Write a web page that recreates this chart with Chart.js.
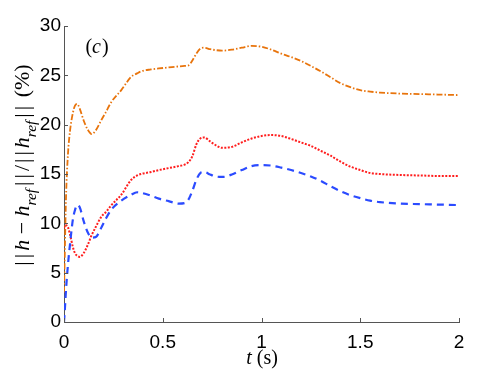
<!DOCTYPE html>
<html>
<head>
<meta charset="UTF-8">
<script src="https://cdn.jsdelivr.net/npm/chart.js"></script>
<style>
  html, body { margin: 0; padding: 0; background: #fff; }
  canvas { display: block; }
</style>
</head>
<body>
<canvas id="graf" width="494" height="372"></canvas>
<script>
// time samples (s)
const tempi = [0, 0.005, 0.01, 0.02, 0.03, 0.045, 0.055, 0.067, 0.08, 0.1,
  0.12, 0.14, 0.16, 0.19, 0.21, 0.24, 0.29, 0.34, 0.37, 0.39,
  0.44, 0.48, 0.53, 0.58, 0.61, 0.63, 0.65, 0.67, 0.69, 0.71,
  0.74, 0.77, 0.8, 0.85, 0.9, 0.95, 1.0, 1.05, 1.1, 1.15,
  1.2, 1.25, 1.3, 1.35, 1.4, 1.45, 1.5, 1.55, 1.6, 1.7,
  1.8, 1.9, 2.0];

// relative error (%) per curve
const erroreArancio = [3.0, 8.0, 12.5, 17.0, 19.3, 21.2, 21.9, 22.1, 21.6, 20.4,
  19.5, 19.05, 19.4, 20.5, 21.2, 22.3, 23.5, 24.85, 25.2, 25.4,
  25.6, 25.7, 25.8, 25.9, 25.95, 26.0, 26.5, 27.2, 27.7, 27.8,
  27.65, 27.55, 27.5, 27.6, 27.8, 27.98, 27.9, 27.6, 27.2, 26.85,
  26.45, 25.95, 25.4, 24.8, 24.2, 23.8, 23.5, 23.35, 23.25, 23.15,
  23.1, 23.05, 23.0];

const erroreRosso = [9.5, 9.8, 9.8, 9.6, 8.9, 7.6, 7.0, 6.7, 6.6, 7.0,
  7.8, 8.8, 9.6, 10.7, 11.1, 11.85, 12.9, 14.4, 14.85, 15.0,
  15.2, 15.4, 15.6, 15.8, 15.95, 16.2, 16.8, 18.0, 18.6, 18.7,
  18.3, 17.9, 17.65, 17.75, 18.2, 18.6, 18.85, 18.95, 18.85, 18.55,
  18.2, 17.85, 17.35, 16.85, 16.25, 15.75, 15.4, 15.1, 15.0, 14.9,
  14.85, 14.8, 14.8];

const erroreBlu = [0, 1.5, 3.2, 5.8, 7.8, 10.4, 11.3, 11.85, 11.6, 10.2,
  9.1, 8.55, 8.6, 9.6, 10.4, 11.4, 12.3, 12.9, 13.15, 13.1,
  12.8, 12.5, 12.25, 12.0, 12.05, 12.4, 13.3, 14.4, 15.1, 15.2,
  14.95, 14.75, 14.7, 14.95, 15.4, 15.8, 15.9, 15.85, 15.65, 15.4,
  15.1, 14.75, 14.3, 13.75, 13.25, 12.85, 12.55, 12.3, 12.15, 12.0,
  11.95, 11.9, 11.85];

const tickX = [0, 0.5, 1, 1.5, 2];
const tickY = [0, 5, 10, 15, 20, 25, 30];

const coloreAssi = '#555';

function punti(valori) {
  return tempi.map((t, i) => ({ x: t, y: valori[i] }));
}

// draws a run of text pieces (italic / subscript) starting at x
function scriviRicco(ctx, pezzi, x, y, size, centrato) {
  const fam = '"Liberation Serif", "DejaVu Serif", serif';
  const misura = p => {
    const s = p.sub ? size * 0.7 : size;
    ctx.font = (p.italic ? 'italic ' : '') + s + 'px ' + fam;
    return ctx.measureText(p.text).width + (p.gap || 0);
  };
  let totale = 0;
  pezzi.forEach(p => { totale += misura(p); });
  let cx = centrato ? x - totale / 2 : x;
  ctx.textBaseline = 'alphabetic';
  ctx.textAlign = 'left';
  pezzi.forEach(p => {
    const w = misura(p);
    ctx.fillText(p.text, cx, y + (p.sub ? size * 0.3 : 0));
    cx += w;
  });
}

const decorazioni = {
  id: 'decorazioni',
  afterDraw(chart) {
    const ctx = chart.ctx;
    const area = chart.chartArea;
    const sx = chart.scales.x, sy = chart.scales.y;
    ctx.save();
    // inward tick marks
    ctx.strokeStyle = coloreAssi;
    ctx.lineWidth = 1;
    ctx.beginPath();
    tickX.forEach(v => {
      const px = Math.round(sx.getPixelForValue(v)) + 0.5;
      ctx.moveTo(px, area.bottom);
      ctx.lineTo(px, area.bottom - 4);
    });
    tickY.forEach(v => {
      const py = Math.round(sy.getPixelForValue(v)) + 0.5;
      ctx.moveTo(area.left, py);
      ctx.lineTo(area.left + 4, py);
    });
    ctx.stroke();

    ctx.fillStyle = '#000';
    // panel label
    scriviRicco(ctx, [
      { text: '(' }, { text: 'c', italic: true, gap: 1 }, { text: ')' }
    ], 97, 53, 20, true);

    // x axis title
    scriviRicco(ctx, [
      { text: 't', italic: true, gap: 5 }, { text: '(s)' }
    ], 262, 364, 20, true);

    // y axis title
    ctx.translate(29, 165);
    ctx.rotate(-Math.PI / 2);
    const barre = [{ text: '|', gap: 3 }, { text: '|', gap: 3 }];
    scriviRicco(ctx, [
      ...barre, { text: 'h', italic: true },
      { text: ' − ' }, { text: 'h', italic: true },
      { text: 'ref', italic: true, sub: true, gap: 3 },
      ...barre, { text: '/', gap: 2 }, ...barre,
      { text: 'h', italic: true },
      { text: 'ref', italic: true, sub: true, gap: 3 },
      ...barre, { text: ' (%)' }
    ], 0, 0, 22, true);
    ctx.restore();
  }
};

new Chart(document.getElementById('graf').getContext('2d'), {
  type: 'line',
  data: {
    datasets: [
      {
        label: 'blu',
        data: punti(erroreBlu),
        borderColor: '#2b4bff',
        borderWidth: 2.2,
        borderDash: [7, 5],
        pointRadius: 0,
        cubicInterpolationMode: 'monotone',
        fill: false
      },
      {
        label: 'rosso',
        data: punti(erroreRosso),
        borderColor: '#ff1e1e',
        borderWidth: 2,
        borderDash: [2, 1.5],
        pointRadius: 0,
        cubicInterpolationMode: 'monotone',
        fill: false
      },
      {
        label: 'arancio',
        data: punti(erroreArancio),
        borderColor: '#e8740c',
        borderWidth: 1.8,
        borderDash: [6, 2, 1.5, 2],
        pointRadius: 0,
        cubicInterpolationMode: 'monotone',
        fill: false
      }
    ]
  },
  options: {
    responsive: false,
    animation: false,
    devicePixelRatio: 1,
    layout: { padding: { left: 0, right: 35, top: 26, bottom: 0 } },
    plugins: { legend: { display: false }, tooltip: { enabled: false } },
    scales: {
      x: {
        type: 'linear',
        min: 0,
        max: 2,
        afterFit: s => { s.height = 50; },
        afterBuildTicks: s => { s.ticks = tickX.map(v => ({ value: v })); },
        grid: { display: false, drawTicks: false },
        border: { display: true, color: coloreAssi, width: 1 },
        ticks: {
          padding: 9,
          color: '#000',
          font: { family: '"Liberation Sans", Arial, sans-serif', size: 19 },
          callback: v => String(v)
        }
      },
      y: {
        min: 0,
        max: 30,
        afterFit: s => { s.width = 64; },
        afterBuildTicks: s => { s.ticks = tickY.map(v => ({ value: v })); },
        grid: { display: false, drawTicks: false },
        border: { display: true, color: coloreAssi, width: 1 },
        ticks: {
          padding: 3,
          color: '#000',
          font: { family: '"Liberation Sans", Arial, sans-serif', size: 19 },
          callback: v => String(v)
        }
      }
    }
  },
  plugins: [decorazioni]
});
</script>
</body>
</html>
